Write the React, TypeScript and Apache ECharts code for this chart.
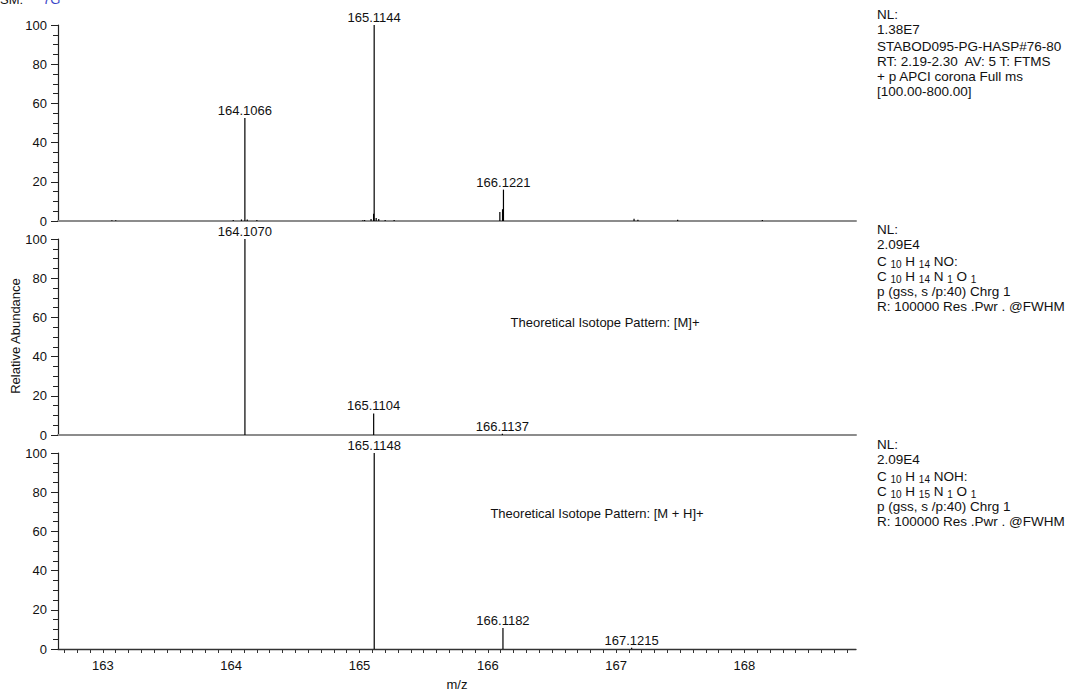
import React, { useEffect, useRef } from "react";
import * as echarts from "echarts";

// ---- data ----
const topMz = [163.07, 163.1, 164.016, 164.08, 164.1066, 164.125, 164.2, 165.026, 165.04, 165.09, 165.11, 165.1144, 165.13, 165.15, 165.2, 165.27, 166.094, 166.115, 166.1221, 167.14, 167.17, 167.48, 168.14];
const topInt = [0.4, 0.4, 0.5, 0.8, 52.5, 0.8, 0.5, 0.4, 0.5, 1, 3.7, 100, 1.5, 1, 0.5, 0.5, 4.6, 6, 16, 1.2, 0.6, 0.6, 0.5];
const topLabels = [164.1066, 165.1144, 166.1221];

const midMz = [164.107, 165.1104, 166.1137];
const midInt = [100, 11, 0.6];
const midLabels = [164.107, 165.1104, 166.1137];

const botMz = [165.1148, 166.1182, 167.1215];
const botInt = [100, 10.7, 0.6];
const botLabels = [165.1148, 166.1182, 167.1215];

const xMin = 162.65;
const xMax = 168.87;
const xTickLabels = [163, 164, 165, 166, 167, 168];
const xTickStep = 0.1;

const topInfo = ["NL:", "1.38E7", "STABOD095-PG-HASP#76-80", "RT: 2.19-2.30  AV: 5 T: FTMS", "+ p APCI corona Full ms", "[100.00-800.00]"];
const midInfo = ["NL:", "2.09E4", "{a|C }{s|10}{a| H }{s|14}{a| NO:}", "{a|C }{s|10}{a| H }{s|14}{a| N }{s|1}{a| O }{s|1}", "p (gss, s /p:40) Chrg 1", "R: 100000 Res .Pwr . @FWHM"];
const botInfo = ["NL:", "2.09E4", "{a|C }{s|10}{a| H }{s|14}{a| NOH:}", "{a|C }{s|10}{a| H }{s|15}{a| N }{s|1}{a| O }{s|1}", "p (gss, s /p:40) Chrg 1", "R: 100000 Res .Pwr . @FWHM"];
const midNote = "Theoretical Isotope Pattern: [M]+";
const botNote = "Theoretical Isotope Pattern: [M + H]+";

const FONT = "'Liberation Sans', Arial, Helvetica, sans-serif";

export default function App() {
  const ref = useRef<HTMLDivElement>(null);
  useEffect(() => {
    document.body.style.margin = "0";
    const chart = echarts.init(ref.current!, null, { renderer: "svg" });
    const gridTops = [25, 239, 453];
    const H = 196;
    const left = 58;
    const width = 798;

    const tickVals: number[] = [];
    for (let v = Math.ceil(xMin / xTickStep); v * xTickStep <= xMax; v++) {
      tickVals.push(Math.round(v * xTickStep * 10) / 10);
    }

    const stick = (mz: number[], ints: number[], idx: number) => ({
      type: "custom",
      xAxisIndex: idx,
      yAxisIndex: idx,
      clip: false,
      encode: { x: 0, y: 1 },
      data: mz.map((m, i) => [m, ints[i]]),
      renderItem: (params: any, api: any) => {
        const x = api.value(0);
        const y = api.value(1);
        const p0 = api.coord([x, 0]);
        const p1 = api.coord([x, y]);
        return {
          type: "line",
          shape: { x1: p0[0], y1: p0[1], x2: p1[0], y2: p1[1] },
          style: { stroke: "#000", lineWidth: 1.2 },
        };
      },
    });
    const labels = (lab: number[], mz: number[], ints: number[], idx: number) => ({
      type: "custom",
      xAxisIndex: idx,
      yAxisIndex: idx,
      clip: false,
      z: 5,
      encode: { x: 0, y: 1 },
      data: lab.map((m) => [m, ints[mz.indexOf(m)]]),
      renderItem: (params: any, api: any) => {
        const x = api.value(0);
        const y = api.value(1);
        const p = api.coord([x, y]);
        return {
          type: "text",
          x: p[0],
          y: p[1] - 1,
          style: {
            text: x.toFixed(4),
            textAlign: "center",
            textVerticalAlign: "bottom",
            fontSize: 13,
            fontFamily: FONT,
            fill: "#111",
          },
        };
      },
    });

    const grids = gridTops.map((t) => ({ left, top: t, width, height: H }));
    const xAxes: any[] = gridTops.map((_, i) => ({
      type: "value",
      gridIndex: i,
      position: "bottom",
      min: xMin,
      max: xMax,
      splitNumber: 6,
      axisLine: i < 2 ? { show: true, onZero: false, lineStyle: { color: "#8c8c8c", width: 2 } } : { show: true, onZero: false, lineStyle: { color: "#333", width: 1.3 } },
      axisTick: i < 2 ? { show: false } : { show: true, length: 4, customValues: tickVals, lineStyle: { color: "#333" } },
      axisLabel: i < 2 ? { show: false } : { show: true, margin: 10, fontSize: 13, color: "#111", fontFamily: FONT, customValues: xTickLabels, formatter: (v: number) => String(Math.round(v)) },
      splitLine: { show: false },
    }));
    const yAxes = gridTops.map((_, i) => ({
      type: "value",
      gridIndex: i,
      min: 0,
      max: 100,
      interval: 20,
      axisLine: { show: true, lineStyle: { color: "#222", width: 1.2 } },
      axisTick: { show: true, length: 7, lineStyle: { color: "#222" } },
      minorTick: { show: true, splitNumber: 4, length: 5, lineStyle: { color: "#222" } },
      axisLabel: { margin: 11, fontSize: 13, color: "#111", fontFamily: FONT },
      splitLine: { show: false },
      minorSplitLine: { show: false },
    }));

    const infoOffsets = [0, 15, 31.6, 46.6, 61.8, 76.3];
    const blockY = [14.7, 229.7, 444.7];
    const graphics: any[] = [];
    [topInfo, midInfo, botInfo].forEach((lines, b) => {
      lines.forEach((t, k) => {
        graphics.push({
          type: "text",
          x: 877,
          y: blockY[b] + infoOffsets[k],
          style: {
            text: t,
            textVerticalAlign: "middle",
            fontSize: 13.5,
            fontFamily: FONT,
            fill: "#111",
            rich: {
              a: { fontSize: 13.5, fontFamily: FONT, color: "#111", lineHeight: 16, verticalAlign: "middle" },
              s: { fontSize: 10, fontFamily: FONT, color: "#111", lineHeight: 11, verticalAlign: "bottom" },
            },
          },
        });
      });
    });
    graphics.push({ type: "text", x: 605, y: 322, style: { text: midNote, textAlign: "center", textVerticalAlign: "middle", fontSize: 13, fontFamily: FONT, fill: "#111" } });
    graphics.push({ type: "text", x: 597, y: 513, style: { text: botNote, textAlign: "center", textVerticalAlign: "middle", fontSize: 13, fontFamily: FONT, fill: "#111" } });
    graphics.push({ type: "text", x: 15, y: 336, rotation: Math.PI / 2, style: { text: "Relative Abundance", textAlign: "center", textVerticalAlign: "middle", fontSize: 13, fontFamily: FONT, fill: "#111" } });
    graphics.push({ type: "text", x: 457, y: 684, style: { text: "m/z", textAlign: "center", textVerticalAlign: "middle", fontSize: 13, fontFamily: FONT, fill: "#111" } });
    graphics.push({ type: "text", x: 0, y: -0.5, style: { text: "SM:", textVerticalAlign: "middle", fontSize: 13, fontFamily: FONT, fill: "#111" } });
    graphics.push({ type: "text", x: 43, y: -0.5, style: { text: "7G", textVerticalAlign: "middle", fontSize: 13, fontFamily: FONT, fill: "#3a46c8" } });

    chart.setOption({
      animation: false,
      backgroundColor: "#fff",
      grid: grids,
      xAxis: xAxes,
      yAxis: yAxes,
      graphic: graphics,
      series: [
        stick(topMz, topInt, 0),
        stick(midMz, midInt, 1),
        stick(botMz, botInt, 2),
        labels(topLabels, topMz, topInt, 0),
        labels(midLabels, midMz, midInt, 1),
        labels(botLabels, botMz, botInt, 2),
      ],
    });
    return () => chart.dispose();
  }, []);
  return <div ref={ref} style={{ position: "absolute", left: 0, top: 0, width: 1073, height: 692 }} />;
}
